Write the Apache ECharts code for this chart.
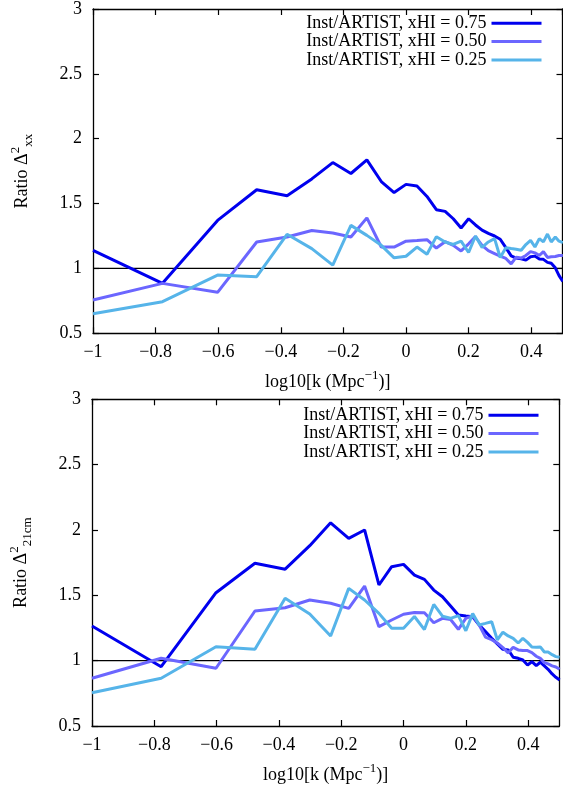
<!DOCTYPE html>
<html><head><meta charset="utf-8">
<script src="https://cdn.jsdelivr.net/npm/echarts@6/dist/echarts.min.js"></script>
<style>html,body{margin:0;padding:0;background:#fff}#c{width:563px;height:792px}</style>
</head><body><div id="c"></div>
<script>
// log10 of k (Mpc^-1) at each bin
const logK = [-1, -0.778, -0.602, -0.477, -0.380, -0.301, -0.234, -0.176, -0.125, -0.079,
  -0.038, 0, 0.035, 0.067, 0.097, 0.125, 0.151, 0.176, 0.200, 0.222,
  0.243, 0.263, 0.283, 0.301, 0.319, 0.336, 0.352, 0.368, 0.383, 0.398,
  0.412, 0.426, 0.439, 0.452, 0.464, 0.477, 0.489, 0.501];

const seriesNames = ['Inst/ARTIST, xHI = 0.75', 'Inst/ARTIST, xHI = 0.50', 'Inst/ARTIST, xHI = 0.25'];

// Top panel: Ratio Delta^2_xx
const xx075 = [1.14, 0.885, 1.37, 1.607, 1.561, 1.69, 1.816, 1.732, 1.837, 1.67,
  1.585, 1.648, 1.635, 1.555, 1.453, 1.44, 1.383, 1.312, 1.383, 1.335,
  1.295, 1.27, 1.25, 1.225, 1.16, 1.097, 1.08, 1.074, 1.064, 1.09,
  1.095, 1.072, 1.07, 1.047, 1.04, 1.005, 0.945, 0.90];
const xx050 = [0.757, 0.885, 0.816, 1.204, 1.242, 1.293, 1.273, 1.242, 1.39, 1.165,
  1.165, 1.21, 1.215, 1.222, 1.157, 1.206, 1.178, 1.135, 1.19, 1.245,
  1.178, 1.137, 1.115, 1.095, 1.077, 1.035, 1.087, 1.08, 1.10, 1.13,
  1.12, 1.10, 1.13, 1.085, 1.09, 1.092, 1.10, 1.10];
const xx025 = [0.65, 0.744, 0.949, 0.936, 1.263, 1.153, 1.025, 1.332, 1.255, 1.178,
  1.082, 1.094, 1.165, 1.11, 1.245, 1.204, 1.185, 1.21, 1.123, 1.25,
  1.162, 1.204, 1.23, 1.084, 1.16, 1.153, 1.148, 1.14, 1.184, 1.216,
  1.165, 1.23, 1.205, 1.265, 1.204, 1.242, 1.21, 1.2];

// Bottom panel: Ratio Delta^2_21cm
const cm075 = [1.265, 0.954, 1.52, 1.745, 1.70, 1.88, 2.055, 1.936, 2.0, 1.579,
  1.719, 1.737, 1.655, 1.622, 1.54, 1.489, 1.418, 1.349, 1.342, 1.336,
  1.273, 1.222, 1.171, 1.128, 1.087, 1.082, 1.026, 1.018, 1.005, 0.967,
  0.992, 0.962, 0.988, 0.96, 0.934, 0.898, 0.873, 0.852];
const cm050 = [0.865, 1.018, 0.942, 1.38, 1.405, 1.464, 1.439, 1.40, 1.571, 1.26,
  1.311, 1.355, 1.368, 1.367, 1.29, 1.324, 1.315, 1.24, 1.324, 1.345,
  1.273, 1.181, 1.16, 1.135, 1.10, 1.06, 1.102, 1.082, 1.077, 1.077,
  1.061, 1.034, 1.018, 0.985, 0.975, 0.96, 0.952, 0.934];
const cm025 = [0.755, 0.865, 1.107, 1.087, 1.477, 1.357, 1.189, 1.553, 1.464, 1.362,
  1.248, 1.248, 1.338, 1.238, 1.43, 1.34, 1.324, 1.345, 1.229, 1.36,
  1.273, 1.285, 1.298, 1.16, 1.218, 1.189, 1.171, 1.135, 1.171, 1.14,
  1.105, 1.102, 1.105, 1.066, 1.066, 1.046, 1.031, 1.026];

const refLine = [[-1, 1], [0.5, 1]];
const colors = ['#0000ee', '#6b66ff', '#56b4e9'];
const FONT = 'Liberation Serif';

function zip(ys) { return logK.map((x, i) => [x, ys[i]]); }
function fmtX(v) {
  const r = Math.round(v * 10) / 10;
  return r < 0 ? '\u2212' + String(-r) : String(r);
}
const richT = {
  a: { fontFamily: FONT, fontSize: 18, color: '#000', lineHeight: 26 },
  sup: { fontFamily: FONT, fontSize: 13, color: '#000', verticalAlign: 'top', lineHeight: 13 },
  sub: { fontFamily: FONT, fontSize: 13, color: '#000', verticalAlign: 'bottom', lineHeight: 13 }
};
const lineAx = { show: true, onZero: false, lineStyle: { color: '#000', width: 1.3 } };
const tickIn = { show: true, inside: true, length: 6, lineStyle: { color: '#000', width: 1.2 } };

function xAxes(g) {
  return [{
    type: 'value', gridIndex: g, position: 'bottom', min: -1, max: 0.5, interval: 0.2,
    axisLine: lineAx, axisTick: tickIn, splitLine: { show: false },
    axisLabel: { show: true, fontFamily: FONT, fontSize: 18, color: '#000', margin: 10,
      showMaxLabel: false, formatter: fmtX },
    name: '{a|log10[k (Mpc}{sup|\u22121}{a|)]}', nameLocation: 'middle', nameGap: 36,
    nameTextStyle: { rich: richT }
  }, {
    type: 'value', gridIndex: g, position: 'top', min: -1, max: 0.5, interval: 0.2,
    axisLine: lineAx, axisTick: tickIn, splitLine: { show: false }, axisLabel: { show: false }
  }];
}
function yAxes(g, sub) {
  return [{
    type: 'value', gridIndex: g, position: 'left', min: 0.5, max: 3, interval: 0.5,
    axisLine: lineAx, axisTick: tickIn, splitLine: { show: false },
    axisLabel: { fontFamily: FONT, fontSize: 18, color: '#000', margin: 11 },
    name: '{a|Ratio \u0394}{sup|2}{sub|' + sub + '}', nameLocation: 'middle', nameGap: 58,
    nameTextStyle: { rich: richT }
  }, {
    type: 'value', gridIndex: g, position: 'right', min: 0.5, max: 3, interval: 0.5,
    axisLine: lineAx, axisTick: tickIn, splitLine: { show: false }, axisLabel: { show: false }
  }];
}
function panelSeries(ax, sets) {
  const out = [{
    type: 'line', xAxisIndex: ax, yAxisIndex: ax, data: refLine, symbol: 'none', silent: true,
    lineStyle: { color: '#000', width: 1.3 }, z: 1, animation: false
  }];
  sets.forEach((ys, i) => out.push({
    name: seriesNames[i], type: 'line', xAxisIndex: ax, yAxisIndex: ax, data: zip(ys),
    symbol: 'none', clip: true, z: 2 + i, animation: false,
    lineStyle: { color: colors[i], width: 3 }, itemStyle: { color: colors[i] }
  }));
  return out;
}
const legendBase = {
  orient: 'vertical', align: 'right', icon: 'rect', itemWidth: 50, itemHeight: 3, itemGap: 0,
  data: seriesNames, selectedMode: false,
  textStyle: { fontFamily: FONT, fontSize: 18, color: '#000', lineHeight: 18.4 }
};

const chart = echarts.init(document.getElementById('c'), null, { renderer: 'canvas' });
chart.setOption({
  animation: false,
  backgroundColor: '#fff',
  grid: [
    { left: 93, top: 7, width: 469.5, height: 326.3 },
    { left: 89, top: 399.3, width: 470.3, height: 326.7 }
  ],
  legend: [
    Object.assign({}, legendBase, { right: 16.5, top: 9 }),
    Object.assign({}, legendBase, { right: 19.5, top: 401 })
  ],
  xAxis: [...xAxes(0), ...xAxes(1)],
  yAxis: [...yAxes(0, 'xx'), ...yAxes(1, '21cm')],
  series: [
    ...panelSeries(0, [xx075, xx050, xx025]),
    ...panelSeries(2, [cm075, cm050, cm025])
  ]
});
</script>
</body></html>
